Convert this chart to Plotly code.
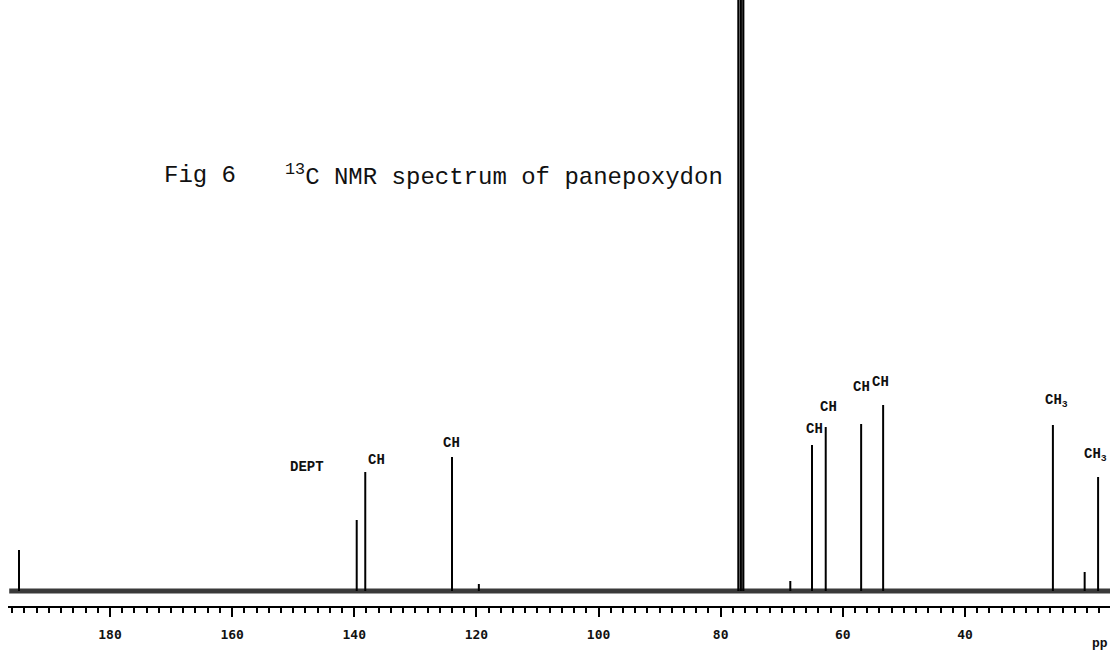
import plotly.graph_objects as go

# ---- data (chemical shift in ppm, intensity in arbitrary units) ----
peak_ppm = [194.9, 139.6, 138.2, 124.0, 119.6, 68.6, 65.05, 62.8, 57.0, 53.4, 25.6, 20.4, 18.2]
peak_int = [41, 71, 119, 134, 7, 10, 146, 164, 167, 186, 166, 19, 114]

solvent_ppm = [77.1, 76.7, 76.3]
solvent_int = [2000, 2000, 2000]

spectrum_start_ppm = 196.5
spectrum_end_ppm = 16.0

tick_vals = [180, 160, 140, 120, 100, 80, 60, 40]
tick_text = ["180", "160", "140", "120", "100", "80", "60", "40"]

label_text = ["DEPT", "CH", "CH", "CH", "CH", "CH", "CH", "CH<sub>3</sub>", "CH<sub>3</sub>"]
label_ppm = [147.7, 136.3, 124.0, 64.6, 62.4, 57.0, 53.75, 27.2, 20.8]
label_int = [124, 131, 148, 162, 184, 204, 209, 190, 136]
label_anchor = ["center", "center", "center", "center", "center", "center", "center", "left", "left"]

x_range = [196.7, 16.25]
y_range = [-15, 591]

# ---- build stick traces ----
def sticks(xs, ys):
    X, Y = [], []
    for x, y in zip(xs, ys):
        X += [x, x, None]
        Y += [0, y, None]
    return X, Y

fig = go.Figure()

# noisy baseline band
fig.add_trace(go.Scatter(
    x=[spectrum_start_ppm, spectrum_end_ppm], y=[0, 0], mode="lines",
    line=dict(color="#3a3a3a", width=5), hoverinfo="skip", showlegend=False))

px, py = sticks(peak_ppm, peak_int)
fig.add_trace(go.Scatter(x=px, y=py, mode="lines",
                         line=dict(color="black", width=2), showlegend=False))

sx, sy = sticks(solvent_ppm, solvent_int)
fig.add_trace(go.Scatter(x=sx, y=sy, mode="lines",
                         line=dict(color="black", width=2.2), showlegend=False))

mono = "Liberation Mono, Courier New, monospace"

for t, xv, yv, anc in zip(label_text, label_ppm, label_int, label_anchor):
    fig.add_annotation(x=xv, y=yv, xref="x", yref="y", text=t, showarrow=False,
                       xanchor=anc, yanchor="middle",
                       font=dict(family=mono, size=14, color="#111", weight="bold"))

# title texts
fig.add_annotation(x=(162 - 8) / 1102, y=1 - 176 / 606, xref="paper", yref="paper",
                   text="Fig 6", showarrow=False, xanchor="left", yanchor="middle",
                   font=dict(family=mono, size=24, color="#111"))
fig.add_annotation(x=(283 - 8) / 1102, y=1 - 176 / 606, xref="paper", yref="paper",
                   text="<sup>13</sup>C NMR spectrum of panepoxydon", showarrow=False,
                   xanchor="left", yanchor="middle",
                   font=dict(family=mono, size=24, color="#111"))
fig.add_annotation(x=(1090 - 8) / 1102, y=1 - 643 / 606, xref="paper", yref="paper",
                   text="pp", showarrow=False, xanchor="left", yanchor="middle",
                   font=dict(family=mono, size=13, color="#111", weight="bold"))

fig.update_layout(
    width=1110, height=651,
    margin=dict(l=8, r=0, t=0, b=45),
    paper_bgcolor="white", plot_bgcolor="white",
    xaxis=dict(range=x_range, showgrid=False, zeroline=False,
               showline=True, linecolor="black", linewidth=2,
               ticks="outside", ticklen=9, tickwidth=2, tickcolor="black",
               tickvals=tick_vals, ticktext=tick_text, ticklabelstandoff=6,
               tickfont=dict(family="DejaVu Sans Mono", size=13, color="#111", weight="bold"),
               minor=dict(dtick=2, ticks="outside", ticklen=5, tickwidth=1.5, tickcolor="black")),
    yaxis=dict(range=y_range, visible=False, showgrid=False, zeroline=False),
)

fig.write_html("out.html")
